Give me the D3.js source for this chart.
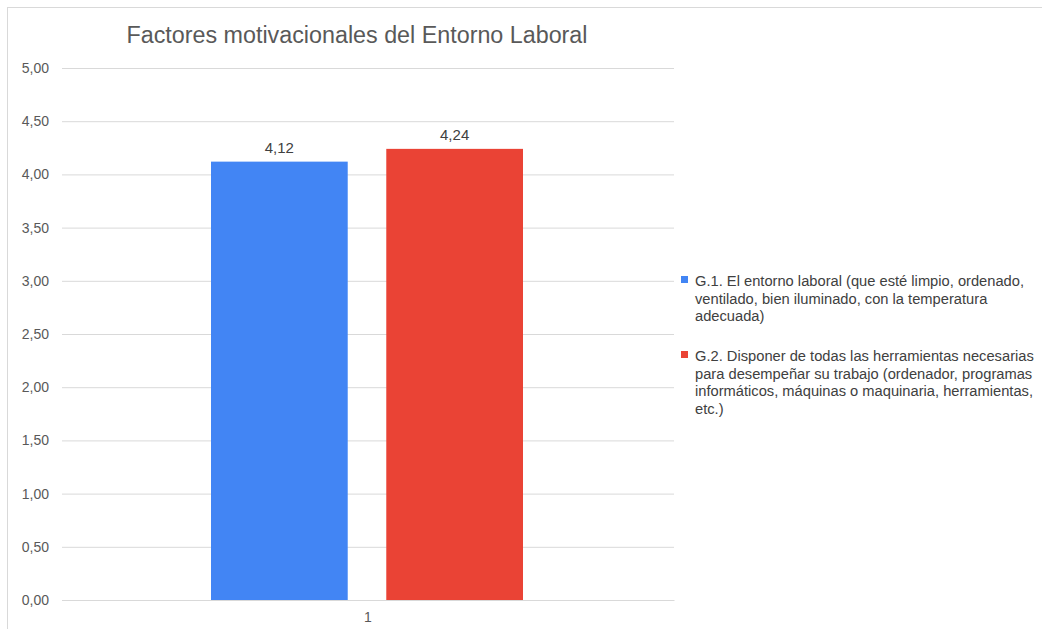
<!DOCTYPE html>
<html>
<head>
<meta charset="utf-8">
<script src="https://cdn.jsdelivr.net/npm/d3@7"></script>
<style>
  body { margin: 0; background: #fff; }
  text { font-family: "Liberation Sans", Arial, sans-serif; }
</style>
</head>
<body>
<svg></svg>
<script>
var title = "Factores motivacionales del Entorno Laboral";
var categories = ["1"];
var seriesNames = [
  "G.1. El entorno laboral (que esté limpio, ordenado, ventilado, bien iluminado, con la temperatura adecuada)",
  "G.2. Disponer de todas las herramientas necesarias para desempeñar su trabajo (ordenador, programas informáticos, máquinas o maquinaria, herramientas, etc.)"
];
var legendLines = [
  ["G.1. El entorno laboral (que esté limpio, ordenado,", "ventilado, bien iluminado, con la temperatura", "adecuada)"],
  ["G.2. Disponer de todas las herramientas necesarias", "para desempeñar su trabajo (ordenador, programas", "informáticos, máquinas o maquinaria, herramientas,", "etc.)"]
];
var seriesValues = [4.12, 4.24];
var seriesColors = ["#4285f4", "#ea4335"];
var yTicks = [0, 0.5, 1, 1.5, 2, 2.5, 3, 3.5, 4, 4.5, 5];

var screen = { width: 1042, height: 629 };
var svg = d3.select("svg")
            .attr("width", screen.width)
            .attr("height", screen.height);

// outer frame
svg.append("rect")
   .attr("x", 7.5).attr("y", 7.5)
   .attr("width", 1100).attr("height", 700)
   .attr("fill", "none")
   .attr("stroke", "#d9d9d9");

var margins = { top: 68, left: 62 };
var width = 612, height = 532;

var fmt = function(v) { return d3.format(".2f")(v).replace(".", ","); };

var xScale = d3.scaleBand()
               .domain(categories)
               .range([0, width]);

var inner = d3.scaleBand()
              .domain(d3.range(seriesValues.length))
              .range([149, 461])
              .paddingInner(0.22);

var yScale = d3.scaleLinear()
               .domain([0, 5])
               .range([height, 0]);

svg.append("text")
   .attr("x", 357).attr("y", 43)
   .attr("text-anchor", "middle")
   .attr("font-size", 23.3)
   .attr("fill", "#595959")
   .text(title);

var plot = svg.append("g")
              .attr("transform", "translate(" + margins.left + "," + margins.top + ")");

// gridlines
var yAxis = d3.axisLeft(yScale)
              .tickValues(yTicks)
              .tickSize(-width)
              .tickPadding(13)
              .tickFormat(fmt);

var yG = plot.append("g").call(yAxis);
yG.select(".domain").remove();
yG.selectAll(".tick line").attr("stroke", "#d9d9d9");
yG.selectAll(".tick text")
  .attr("font-size", 14)
  .attr("fill", "#595959")
  .style("font-family", "Liberation Sans, Arial, sans-serif");

// bars
plot.selectAll("rect.bar")
    .data(seriesValues)
    .enter()
    .append("rect")
    .classed("bar", true)
    .attr("x", function(d, i) { return inner(i); })
    .attr("y", function(d) { return yScale(d); })
    .attr("width", inner.bandwidth())
    .attr("height", function(d) { return height - yScale(d); })
    .attr("fill", function(d, i) { return seriesColors[i]; });

plot.selectAll("text.lbl")
    .data(seriesValues)
    .enter()
    .append("text")
    .classed("lbl", true)
    .attr("x", function(d, i) { return inner(i) + inner.bandwidth() / 2; })
    .attr("y", function(d) { return yScale(d) - 9; })
    .attr("text-anchor", "middle")
    .attr("font-size", 15)
    .attr("fill", "#404040")
    .text(fmt);

// x axis
var xAxis = d3.axisBottom(xScale).tickSize(0).tickPadding(12);
var xG = plot.append("g")
             .attr("transform", "translate(0," + height + ")")
             .call(xAxis);
xG.select(".domain").attr("stroke", "#d9d9d9");
xG.selectAll(".tick text")
  .attr("font-size", 14)
  .attr("fill", "#595959")
  .style("font-family", "Liberation Sans, Arial, sans-serif");

// legend
var legend = svg.append("g").attr("transform", "translate(681,0)");
var legendTop = [281, 356];
var items = legend.selectAll("g")
                  .data(seriesNames)
                  .enter()
                  .append("g")
                  .attr("transform", function(d, i) { return "translate(0," + legendTop[i] + ")"; });

items.append("rect")
     .attr("x", 0).attr("y", -5)
     .attr("width", 7).attr("height", 7)
     .attr("fill", function(d, i) { return seriesColors[i]; });

items.append("text")
     .attr("font-size", 14.7)
     .attr("fill", "#404040")
     .each(function(d, i) {
       d3.select(this).selectAll("tspan")
         .data(legendLines[i])
         .enter()
         .append("tspan")
         .attr("x", 14)
         .attr("y", function(l, j) { return 5 + j * 17.6; })
         .text(function(l) { return l; });
     });
</script>
</body>
</html>
